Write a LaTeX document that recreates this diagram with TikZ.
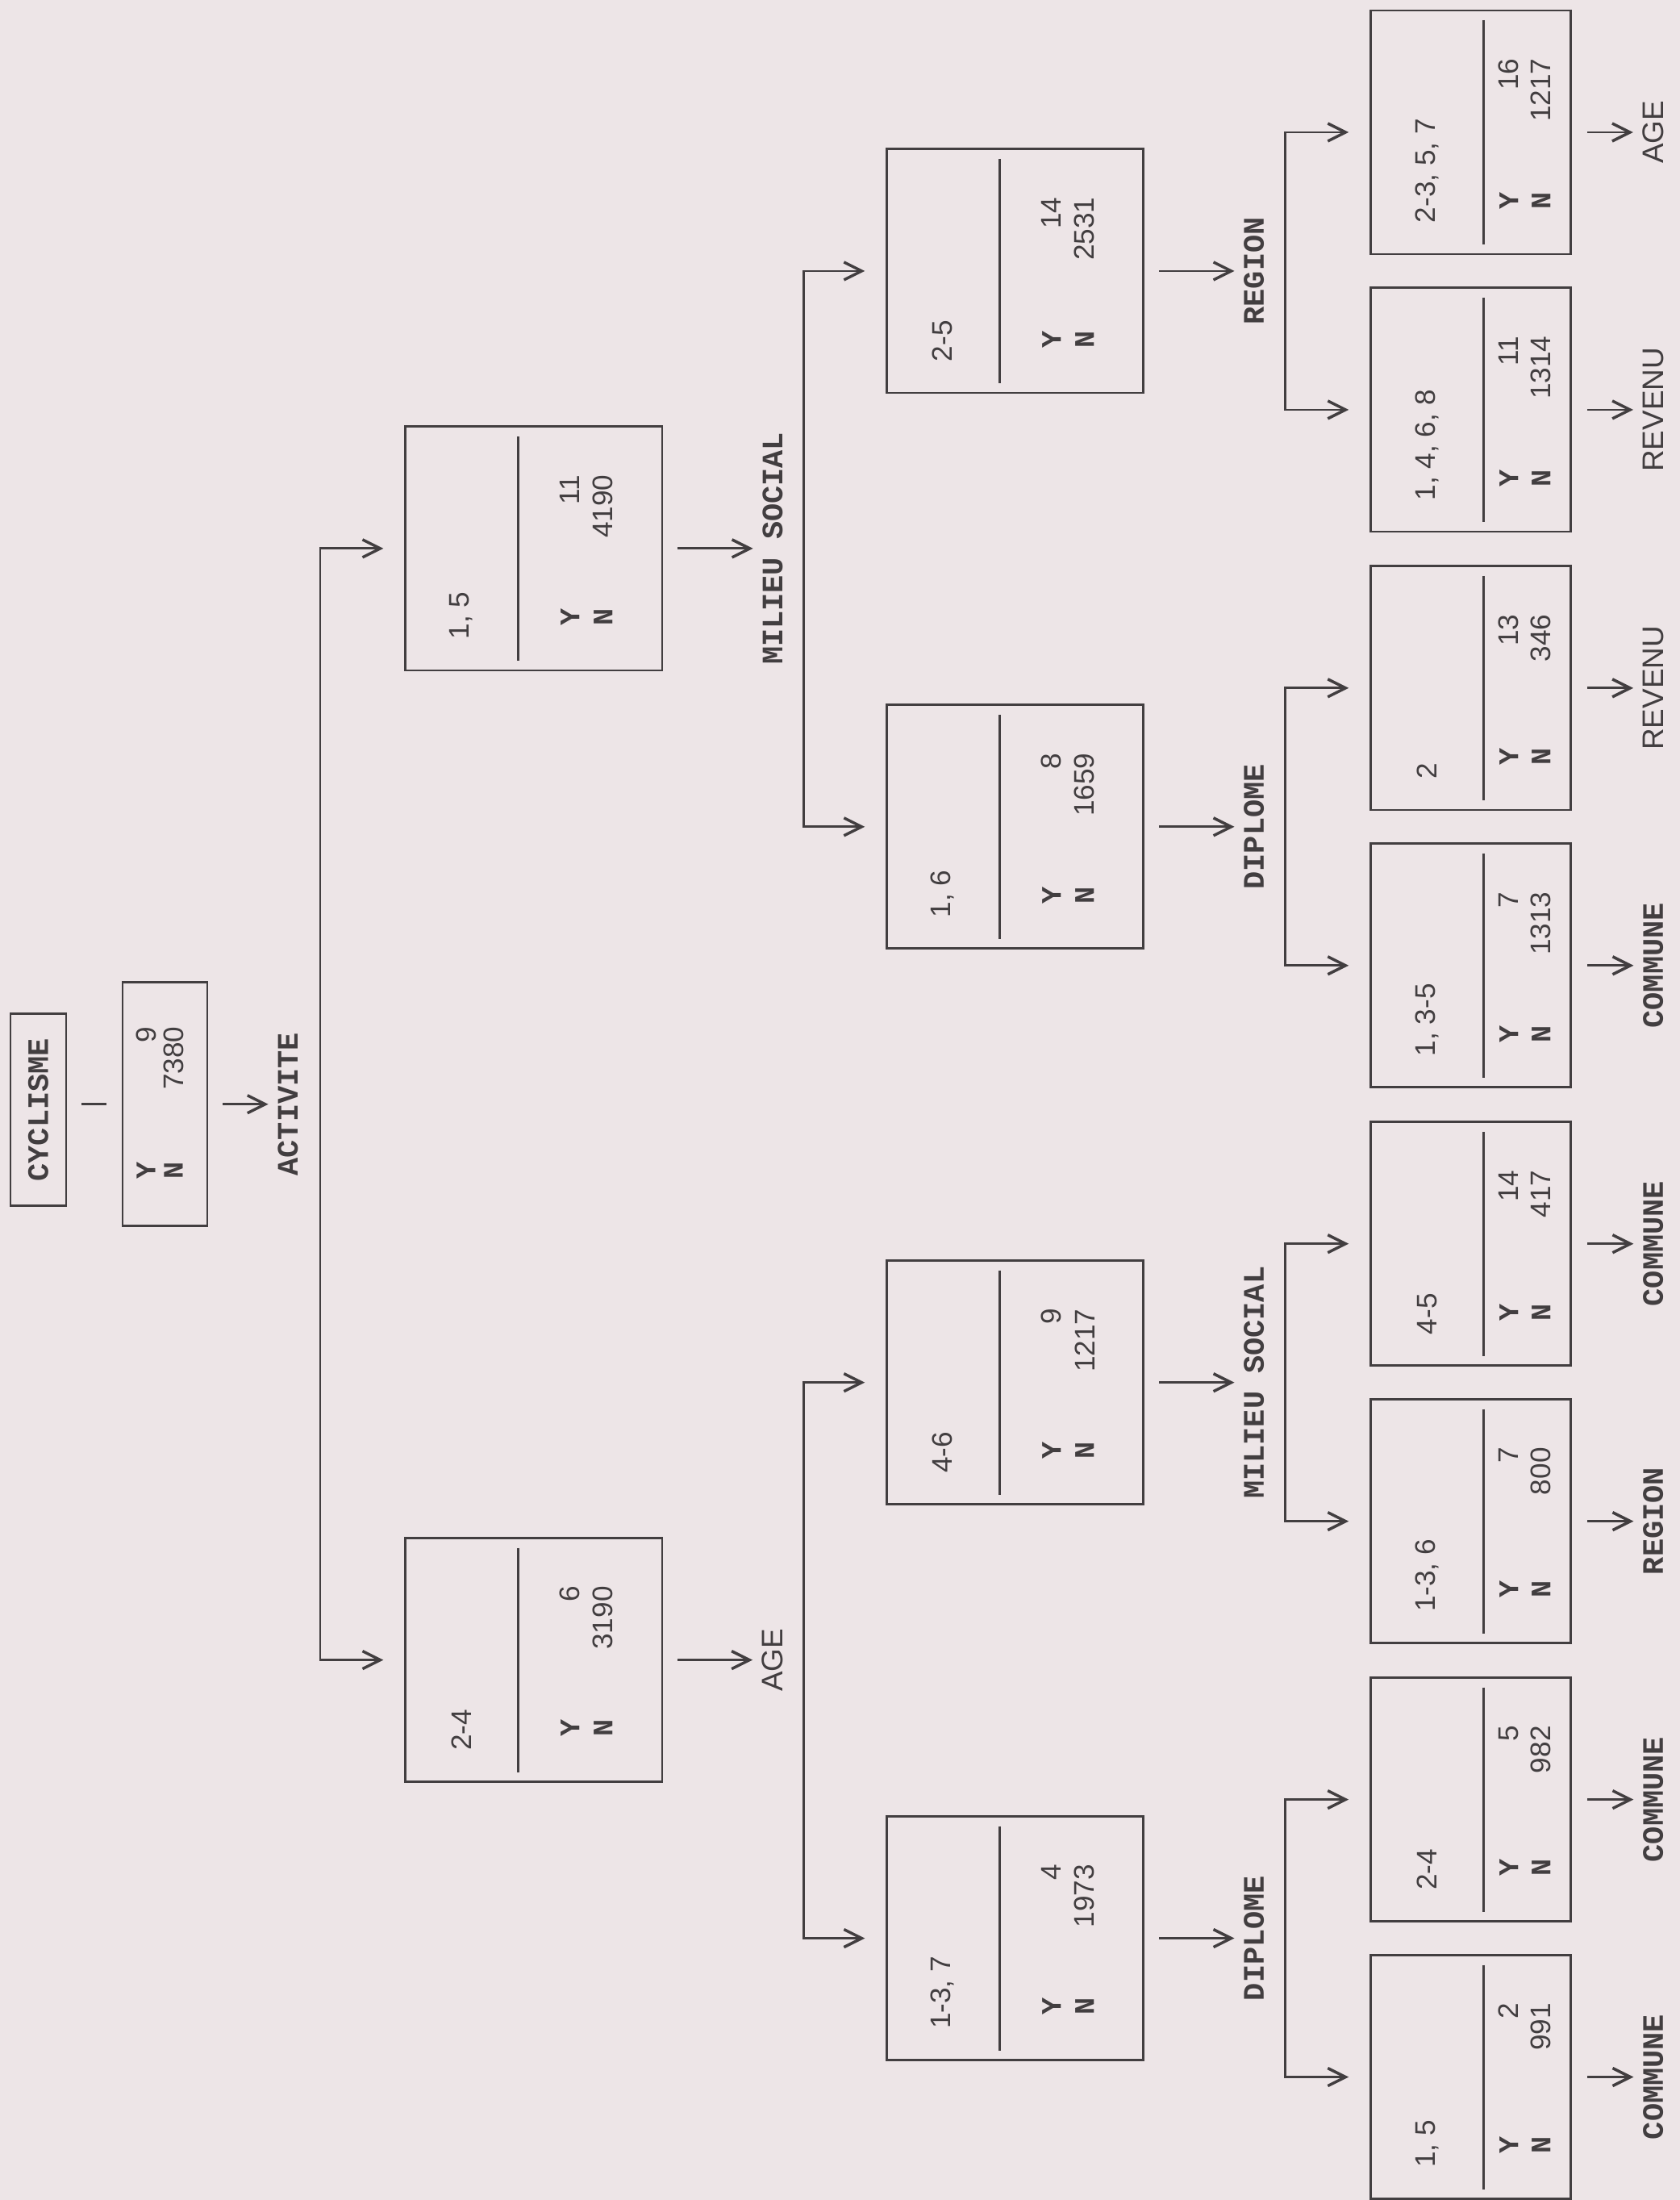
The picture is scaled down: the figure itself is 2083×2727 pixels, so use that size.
\documentclass[tikz,border=0pt]{standalone}
\usepackage{fontspec}
\setmainfont{Liberation Sans}
\setsansfont{Liberation Sans}
\setmonofont{Liberation Mono}
\usetikzlibrary{arrows.meta, calc}

\definecolor{paper}{RGB}{237,229,231}
\definecolor{ink}{RGB}{66,62,64}

\tikzset{
  box/.style={draw=ink, line width=0.8pt, inner sep=0pt},
  txt/.style={rotate=90, inner sep=0pt, text=ink, font=\sffamily\fontsize{10}{12}\selectfont},
  yn/.style={rotate=90, inner sep=0pt, text=ink, font=\ttfamily\bfseries\fontsize{10}{12}\selectfont},
  varlab/.style={rotate=90, inner sep=0pt, text=ink},
  conn/.style={draw=ink, line width=0.8pt},
  vtip/.tip={Straight Barb[length=2.2mm, width=2.2mm, line width=1pt]},
  arr/.style={conn, -vtip, shorten >=1.1mm},
}

\begin{document}
\begin{tikzpicture}[x=0.01cm, y=-0.01cm]

% --- Paper ---
\fill[paper] (0,0) rectangle (2083,2727);

% --- Root: CYCLISME ---
\node[box, minimum width=0.69cm, minimum height=2.38cm] (cyc) at (47.5,1376) {};
\node[varlab, font=\ttfamily\bfseries\fontsize{10.5}{12}\selectfont] at (cyc) {CYCLISME};
\node[box, minimum width=1.05cm, minimum height=3.02cm] (root) at (204.5,1369) {};
\node[yn, anchor=west] at (181,1462) {Y};
\node[yn, anchor=west] at (215,1462) {N};
\node[txt, anchor=east] at (181,1272) {9};
\node[txt, anchor=east] at (215,1272) {7380};
\node[varlab, font=\ttfamily\bfseries\fontsize{10.5}{12}\selectfont] (vroot) at (357,1369) {ACTIVITE};
\draw[conn] ($(cyc.east |- root.west)+(18,0)$) -- ($(root.west)+(-19,0)$);
\draw[arr] ($(root.east)+(18,0)$) -- (vroot.north);
\coordinate (kroot) at (397,1369);

% --- Inner nodes (levels 1 and 2) ---
\foreach \n/\xl/\c/\lab/\ny/\nn/\var/\vf in {
  a1/503/680/{1, 5}/11/4190/MILIEU SOCIAL/\ttfamily\bfseries,
  a2/503/2058/2-4/6/3190/AGE/\sffamily,
  b1/1100/336/2-5/14/2531/REGION/\ttfamily\bfseries,
  b2/1100/1025/{1, 6}/8/1659/DIPLOME/\ttfamily\bfseries,
  b3/1100/1714/4-6/9/1217/MILIEU SOCIAL/\ttfamily\bfseries,
  b4/1100/2403/{1-3, 7}/4/1973/DIPLOME/\ttfamily\bfseries} {
  \node[box, minimum width=3.18cm, minimum height=3.02cm] (\n) at (\xl+159, \c) {};
  \draw[conn] (\xl+140, \c-139) -- (\xl+140, \c+139);
  \node[txt, anchor=west] at (\xl+69, \c+113) {\lab};
  \node[yn, anchor=west] at (\xl+204, \c+96) {Y};
  \node[yn, anchor=west] at (\xl+245, \c+96) {N};
  \node[txt, anchor=east] at (\xl+204, \c-92) {\ny};
  \node[txt, anchor=east] at (\xl+245, \c-92) {\nn};
  \node[varlab, font=\vf\fontsize{10.5}{12}\selectfont] (v\n) at (\xl+455, \c) {\var};
  \draw[arr] ($(\n.east)+(18,0)$) -- (v\n.north);
  \coordinate (k\n) at (\xl+494, \c);
}

% --- Leaves ---
\foreach \n/\c/\lab/\ny/\nn/\var/\vf in {
  c1/164/{2-3, 5, 7}/16/1217/AGE/\sffamily,
  c2/508/{1, 4, 6, 8}/11/1314/REVENU/\sffamily,
  c3/853/2/13/346/REVENU/\sffamily,
  c4/1197/{1, 3-5}/7/1313/COMMUNE/\ttfamily\bfseries,
  c5/1542/4-5/14/417/COMMUNE/\ttfamily\bfseries,
  c6/1886/{1-3, 6}/7/800/REGION/\ttfamily\bfseries,
  c7/2231/2-4/5/982/COMMUNE/\ttfamily\bfseries,
  c8/2575/{1, 5}/2/991/COMMUNE/\ttfamily\bfseries} {
  \node[box, minimum width=2.48cm, minimum height=3.02cm] (\n) at (1824, \c) {};
  \draw[conn] (1840, \c-139) -- (1840, \c+139);
  \node[txt, anchor=west] at (1770, \c+113) {\lab};
  \node[yn, anchor=west] at (1871, \c+96) {Y};
  \node[yn, anchor=west] at (1911, \c+96) {N};
  \node[txt, anchor=east] at (1871, \c-92) {\ny};
  \node[txt, anchor=east] at (1911, \c-92) {\nn};
  \node[varlab, font=\vf\fontsize{10.5}{12}\selectfont] (v\n) at (2050, \c) {\var};
  \draw[arr] ($(\n.east)+(19,0)$) -- (v\n.north);
}

% --- Brackets ---
\foreach \p/\u/\w in {root/a1/a2, a1/b1/b2, a2/b3/b4, b1/c1/c2, b2/c3/c4, b3/c5/c6, b4/c7/c8} {
  \draw[conn, vtip-vtip] ($(\u.west)+(-26,0)$) -| (k\p) |- ($(\w.west)+(-26,0)$);
}

\end{tikzpicture}
\end{document}
